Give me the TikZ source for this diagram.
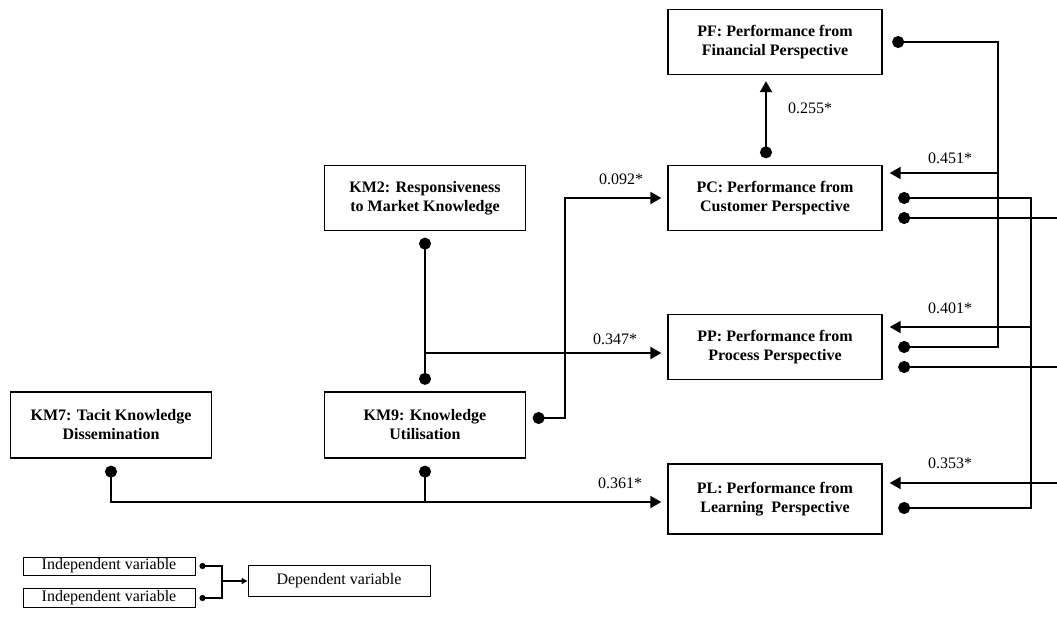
\documentclass[tikz,border=0pt]{standalone}
\usepackage{fontspec}
\setmainfont{Liberation Serif}
\usetikzlibrary{arrows.meta,calc}
\begin{document}
\begin{tikzpicture}[x=1pt,y=-1pt,
  box/.style={draw,line width=1.3pt,inner sep=0pt,align=center,
    font=\fontsize{16}{19}\selectfont\bfseries,minimum width=214pt,minimum height=65pt},
  kmbox/.style={box,minimum width=201pt,minimum height=66pt},
  lbox/.style={draw,line width=1pt,inner sep=0pt,align=center,
    font=\fontsize{16}{19}\selectfont},
  conn/.style={line width=2pt},
  lconn/.style={line width=2pt},
  dotarr/.style={{Circle[length=12pt,width=12pt]}-{Triangle[length=11pt,width=12pt]}},
  dotdot/.style={{Circle[length=12pt,width=12pt]}-{Circle[length=12pt,width=12pt]}},
  dotonly/.style={{Circle[length=12pt,width=12pt]}-},
  arronly/.style={-{Triangle[length=11pt,width=12pt]}},
  sdotdot/.style={{Circle[length=6pt,width=6pt]}-{Circle[length=6pt,width=6pt]}},
  sarr/.style={-{Triangle[length=6pt,width=6pt]}},
  lab/.style={font=\fontsize{16}{19}\selectfont,inner sep=0pt}
]
\useasboundingbox (0,0) rectangle (1057,616);
\clip (0,0) rectangle (1057,616);

% performance boxes
\node[box] (PF) at (775,42) {PF: Performance from\\Financial Perspective};
\node[box] (PC) at (775,198) {PC: Performance from\\Customer Perspective};
\node[box] (PP) at (775,347) {PP: Performance from\\Process Perspective};
\node[box,minimum height=70pt] (PL) at (775,499) {PL: Performance from\\Learning\ \ Perspective};

% KM boxes
\node[kmbox,minimum height=65pt] (KM2) at (425,198) {KM2: Responsiveness\\to Market Knowledge};
\node[kmbox] (KM9) at (425,425) {KM9: Knowledge\\Utilisation};
\node[kmbox] (KM7) at (111,425) {KM7: Tacit Knowledge\\Dissemination};

% legend
\node[lbox,minimum width=172pt,minimum height=18pt] (I1) at (109,566) {Independent variable};
\node[lbox,minimum width=172pt,minimum height=19pt] (I2) at (109,598) {Independent variable};
\node[lbox,minimum width=182pt,minimum height=31pt] (DV) at (339,581) {Dependent variable};

% helper coordinates
\coordinate (cA) at (998,0);
\coordinate (cB) at (1031,0);
\coordinate (edge) at (1057,0);

% PC -> PF
\coordinate (pcTop) at ($(PC.north)+(-9,0)$);
\draw[conn,dotarr,shorten <=6.5pt,shorten >=6pt] (pcTop) -- (pcTop |- PF.south);
\node[lab] at (810,108) {0.255*};

% KM2 -- KM9 and to PP
\draw[conn,dotdot,shorten <=6.5pt,shorten >=6.5pt] (KM2.south) -- (KM9.north);
\coordinate (j1) at (425,353);
\draw[conn,arronly,shorten >=6pt] (j1) -- (j1 -| PP.west);
\node[lab] at (615,339) {0.347*};

% KM9 -> PC
\coordinate (k9r) at ($(KM9.east)+(0,-7)$);
\coordinate (b1) at (565,418);
\draw[conn,dotarr,shorten <=6.5pt,shorten >=6pt] (k9r) -- (b1) |- (PC.west);
\node[lab] at (621,179) {0.092*};

% KM7, KM9 -> PL
\coordinate (plin) at ($(PL.west)+(0,3)$);
\coordinate (jl) at (425,502);
\draw[conn,dotarr,shorten <=7pt,shorten >=6pt] (KM7.south) |- (plin);
\draw[conn,dotonly,shorten <=7pt] (KM9.south) -- (jl);
\node[lab] at (620,483) {0.361*};

% right side: PF & PP -> PC
\draw[conn,dotdot,shorten <=9.5pt,shorten >=15.5pt] (PF.east) -| (cA |- PP.east) -- (PP.east);
\coordinate (a451) at (998,173);
\draw[conn,arronly,shorten >=7pt] (a451) -- (a451 -| PC.east);
\node[lab] at (950,158) {0.451*};

% PC & PL -> PP
\coordinate (pld) at ($(PL.east)+(0,9)$);
\draw[conn,dotdot,shorten <=15.5pt,shorten >=15.5pt] (PC.east) -| (cB |- pld) -- (pld);
\coordinate (a401) at (1031,327);
\draw[conn,arronly,shorten >=7pt] (a401) -- (a401 -| PP.east);
\node[lab] at (950,308) {0.401*};

% PC & PP -> PL (continuing to the right)
\coordinate (pcd2) at ($(PC.east)+(0,20)$);
\draw[conn,dotonly,shorten <=15.5pt] (pcd2) -- (pcd2 -| edge);
\coordinate (ppd2) at ($(PP.east)+(0,20)$);
\draw[conn,dotonly,shorten <=15.5pt] (ppd2) -- (ppd2 -| edge);
\coordinate (a353) at (1057,483);
\draw[conn,arronly,shorten >=7pt] (a353) -- (a353 -| PL.east);
\node[lab] at (950,463) {0.353*};

% legend connectors
\coordinate (lj) at (222,0);
\draw[lconn,sdotdot,shorten <=4pt,shorten >=4pt] (I1.east) -| (lj |- I2.east) -- (I2.east);
\coordinate (lj2) at (222,581);
\draw[lconn,sarr] (lj2) -- (lj2 -| DV.west);
\end{tikzpicture}
\end{document}
